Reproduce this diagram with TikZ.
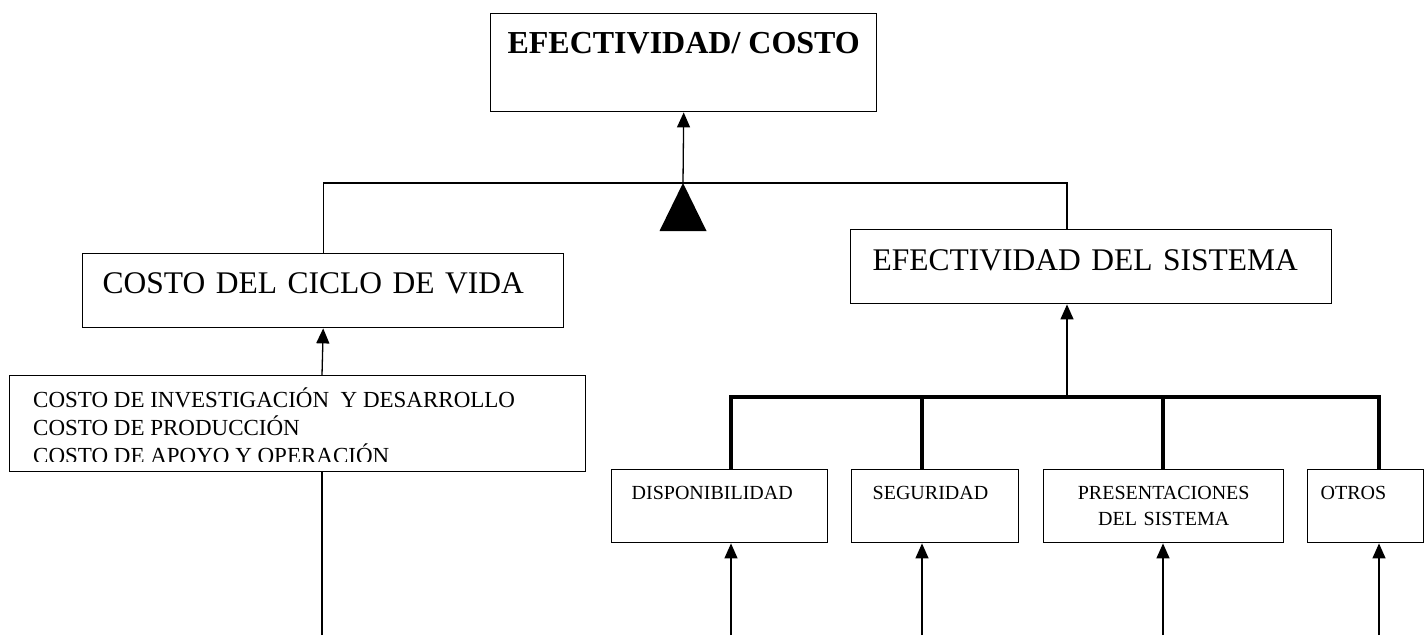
\documentclass[tikz,border=0pt]{standalone}
\usepackage{fontspec}
\setmainfont{Liberation Serif}
\usetikzlibrary{arrows.meta,positioning}

\begin{document}
\begin{tikzpicture}[x=1pt, y=-1pt,
		box/.style={draw, line width=1.4pt, anchor=north west, inner ysep=0pt},
		big/.style={font=\fontsize{31.5}{38}\selectfont},
		small/.style={font=\fontsize{20}{26}\selectfont},
		line/.style={line width=1.3pt},
		arr/.style={line, -{Triangle[length=15pt,width=13pt]}},
		bus/.style={line width=4pt}
	]
		\useasboundingbox (0,0) rectangle (1425,635);

		% upper level
		\node[box, font=\fontsize{32}{38}\selectfont\bfseries, minimum width=386pt, text height=40pt, text depth=58pt] (goal) at (490,13) {EFECTIVIDAD/ COSTO};
		\node[box, big, align=left, inner xsep=20pt, text width=441pt, text height=40pt, text depth=34pt] (lcc) at (82,253) {COSTO DEL CICLO DE VIDA};
		\node[box, big, align=left, inner xsep=22pt, text width=437pt, text height=41pt, text depth=33pt] (es) at (850,229) {EFECTIVIDAD DEL SISTEMA};

		% cost items (text cut by the box)
		\node[box, minimum width=576pt, minimum height=96pt] (inv) at (9,375) {};
		\begin{scope}
			\clip (inv.north west) rectangle ([yshift=11pt]inv.south east);
			\node[anchor=base west, align=left, inner sep=0pt, font=\fontsize{23}{28}\selectfont] (invtxt) at (33,463) {COSTO DE INVESTIGACIÓN\ \ Y DESARROLLO\\COSTO DE PRODUCCIÓN\\COSTO DE APOYO Y OPERACIÓN};
		\end{scope}

		% effectiveness items
		\node[box, small, align=left, inner xsep=20pt, text width=176pt, text height=30pt, text depth=43pt] (disp) at (611,469) {DISPONIBILIDAD};
		\node[box, small, align=left, inner xsep=21pt, text width=125pt, text height=30pt, text depth=43pt] (seg) at (851,469) {SEGURIDAD};
		\node[box, small, align=center, inner xsep=10pt, text width=220pt, text height=30pt, text depth=43pt] (pres) at (1043,469) {PRESENTACIONES\\DEL SISTEMA};
		\node[box, small, align=left, inner xsep=13pt, text width=90pt, text height=30pt, text depth=43pt] (otros) at (1307,469) {OTROS};

		\coordinate (top) at (683,183);
		\coordinate (jr) at (1067,183);
		\coordinate (bus) at (1067,397);
		\coordinate (lb) at (322,635);
		\coordinate (d1) at (731,635);
		\coordinate (d2) at (922,635);
		\coordinate (d3) at (1163,635);
		\coordinate (d4) at (1379,635);

		\draw[line] (lcc.north) |- (jr) -- (jr |- es.north);
		\draw[arr] (top) -- (goal.south);
		\fill (top) -- ++(23.5,48) -- ++(-47,0) -- cycle;

		\draw[arr] (lb |- inv.north) -- (lcc.south);
		\draw[line] (lb) -- (lb |- inv.south);

		\draw[arr] (bus) -- (bus |- es.south);
		\draw[bus] (d1 |- disp.north) |- (d4 |- bus) -- (d4 |- otros.north);
		\draw[bus] (d2 |- bus) -- (d2 |- seg.north);
		\draw[bus] (d3 |- bus) -- (d3 |- pres.north);

		\draw[arr] (d1) -- (d1 |- disp.south);
		\draw[arr] (d2) -- (d2 |- seg.south);
		\draw[arr] (d3) -- (d3 |- pres.south);
		\draw[arr] (d4) -- (d4 |- otros.south);
	\end{tikzpicture}
\end{document}
